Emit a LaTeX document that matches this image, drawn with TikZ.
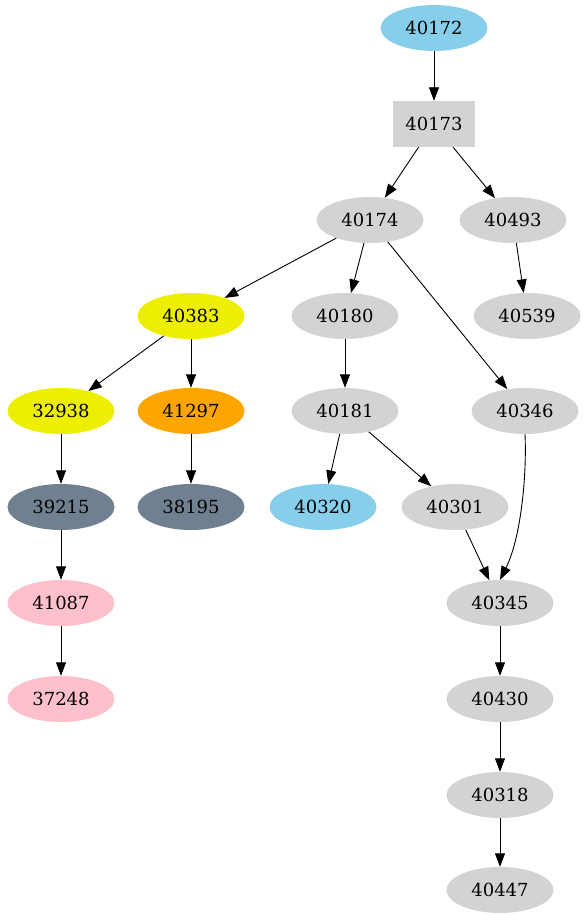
\documentclass[tikz,border=0pt]{standalone}
\usepackage{fontspec}
\setmainfont{DejaVu Serif}
\usetikzlibrary{shapes.geometric,arrows.meta}
\definecolor{gvgrey}{HTML}{D3D3D3}
\definecolor{gvsky}{HTML}{87CEEB}
\definecolor{gvyellow}{HTML}{EEEE00}
\definecolor{gvorange}{HTML}{FFA500}
\definecolor{gvslate}{HTML}{708090}
\definecolor{gvpink}{HTML}{FFC0CB}
\begin{document}
\begin{tikzpicture}[x=1pt,y=-1pt,
  nd/.style={ellipse,minimum width=107pt,minimum height=46pt,inner sep=0pt,fill=gvgrey,font=\fontsize{18}{22}\selectfont},
  bx/.style={rectangle,minimum width=82pt,minimum height=46pt,inner sep=0pt,fill=gvgrey,font=\fontsize{18}{22}\selectfont},
  ed/.style={-{Triangle[length=13.5pt,width=10pt]},line width=0.9pt}]
\useasboundingbox (0,0) rectangle (586,923);
\node[nd,fill=gvsky] (n40172) at (434,28) {40172};
\node[bx] (n40173) at (434,124) {40173};
\node[nd] (n40174) at (370,220) {40174};
\node[nd] (n40493) at (513,220) {40493};
\node[nd,fill=gvyellow] (n40383) at (191,316) {40383};
\node[nd] (n40180) at (345,316) {40180};
\node[nd] (n40539) at (527,316) {40539};
\node[nd,fill=gvyellow] (n32938) at (61,411) {32938};
\node[nd,fill=gvorange] (n41297) at (191,411) {41297};
\node[nd] (n40181) at (345,411) {40181};
\node[nd] (n40346) at (525,411) {40346};
\node[nd,fill=gvslate] (n39215) at (61,507) {39215};
\node[nd,fill=gvslate] (n38195) at (191,507) {38195};
\node[nd,fill=gvsky] (n40320) at (323,507) {40320};
\node[nd] (n40301) at (455,507) {40301};
\node[nd,fill=gvpink] (n41087) at (61,603) {41087};
\node[nd] (n40345) at (500,603) {40345};
\node[nd,fill=gvpink] (n37248) at (61,699) {37248};
\node[nd] (n40430) at (500,699) {40430};
\node[nd] (n40318) at (500,795) {40318};
\node[nd] (n40447) at (500,890) {40447};
\draw[ed] (n40172) -- (n40173);
\draw[ed] (n40173) -- (n40174);
\draw[ed] (n40173) -- (n40493);
\draw[ed] (n40493) -- (n40539);
\draw[ed] (n40174) -- (n40383);
\draw[ed] (n40174) -- (n40180);
\draw[ed] (n40174) -- (n40346);
\draw[ed] (n40383) -- (n32938);
\draw[ed] (n40383) -- (n41297);
\draw[ed] (n40180) -- (n40181);
\draw[ed] (n32938) -- (n39215);
\draw[ed] (n41297) -- (n38195);
\draw[ed] (n40181) -- (n40320);
\draw[ed] (n40181) -- (n40301);
\draw[ed] (n40301) -- (n40345);
\draw[ed] (n40346.south) .. controls (527,480) and (520,540) .. (n40345.north);
\draw[ed] (n39215) -- (n41087);
\draw[ed] (n41087) -- (n37248);
\draw[ed] (n40345) -- (n40430);
\draw[ed] (n40430) -- (n40318);
\draw[ed] (n40318) -- (n40447);
\end{tikzpicture}
\end{document}
